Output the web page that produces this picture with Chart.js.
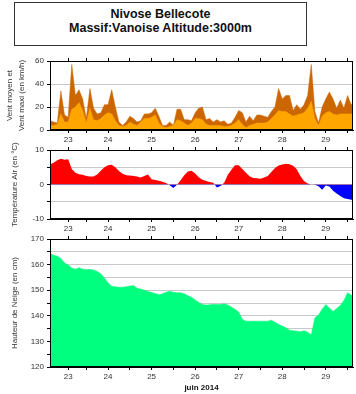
<!DOCTYPE html>
<html>
<head>
<meta charset="utf-8">
<script src="https://cdn.jsdelivr.net/npm/chart.js@4/dist/chart.umd.min.js"></script>
<style>
  html, body { margin: 0; padding: 0; background: #fff; }
  #wrap { position: relative; width: 356px; height: 394px; overflow: hidden; font-family: "Liberation Sans", Arial, sans-serif; }
  canvas { position: absolute; left: 0; top: 0; }
  #titlebox { position: absolute; left: 14px; top: 2px; width: 291px; height: 37px; border: 1.5px solid #333;
    text-align: center; font-weight: bold; font-size: 12.5px; line-height: 13.5px; color: #111; padding-top: 5px; box-sizing: content-box; }
</style>
</head>
<body>
<div id="wrap">
  <div id="titlebox"><div>Nivose Bellecote</div><div>Massif:Vanoise Altitude:3000m</div></div>
  <canvas id="c1" width="356" height="394"></canvas>
  <canvas id="c2" width="356" height="394"></canvas>
  <canvas id="c3" width="356" height="394"></canvas>
</div>
<script>
// hours since 23 June 2014 00:00
const hours = [4,6,8,10,12,14,16,18,20,22,24,26,28,30,32,34,36,38,40,42,44,46,48,50,52,54,56,58,60,62,64,66,68,70,72,74,76,78,80,82,84,86,88,90,92,94,96,98,100,102,104,106,108,110,112,114,116,118,120,122,124,126,128,130,132,134,136,138,140,142,144,146,148,150,152,154,156,158,160,162,164,166,168,170,172];
const dayLabels = ['23','24','25','26','27','28','29','30'];
const xMin = 4, xMax = 171;

const windMax = [8,7,6,34,13,11,57,30,35,27, 10,36,19,14,15,22,22,35,20,7, 4,7,12,10,7,8,14,14,15,19, 12,4,4,7,4,18,18,9,9,8, 15,19,20,9,10,7,9,7,8,5, 6,11,17,15,7,12,8,13,13,12, 11,16,20,36,27,30,30,17,22,18, 22,30,57,16,6,20,27,33,27,19, 26,19,30,22,25];
const windMean = [4,4,5,14,7,7,18,20,24,17, 6,19,9,8,10,13,15,14,8,4, 3,4,7,5,4,7,10,10,11,13, 6,3,2,3,4,9,8,6,4,6, 10,10,9,5,4,4,4,4,3,3, 4,6,9,5,2,4,5,6,6,6, 7,10,13,17,16,16,14,12,13,14, 15,19,25,10,4,12,15,16,14,13, 14,14,14,14,14];
const temperature = [5.8,6.3,7.0,7.5,7.2,7.3,4.5,3.4,3.0,2.8, 2.5,2.3,2.3,2.9,4.0,5.0,5.6,5.7,5.0,3.9, 3.1,2.7,2.6,2.5,2.3,2.0,2.5,2.9,1.5,1.3, 1.1,0.8,0.4,-0.2,-1.0,-0.1,1.2,2.7,3.8,4.0, 3.2,2.1,1.4,1.0,0.7,0.5,-0.9,-0.4,0.5,2.8, 4.3,5.6,5.6,4.5,3.4,2.4,1.9,1.8,1.7,2.0, 2.5,3.6,4.8,5.5,5.8,6.0,5.9,5.4,4.4,2.5, 1.0,0.3,0,-0.1,-0.5,-1.5,-0.3,-0.6,-1.8,-2.6, -3.3,-4.0,-4.2,-4.4,-4.5];
const snowDepth = [164.4,163.7,163.3,162.4,160.6,159.8,158.7,158.2,158.8,158.2, 158.1,158.1,157.9,157.3,156.4,154.8,152.8,151.5,151.3,151.2, 151.2,151.3,151.6,151.8,150.8,150.5,150.0,149.5,149.1,148.7, 148.2,148.6,149.2,149.6,149.2,149.0,149.0,148.6,147.8,147.2, 146.2,145.2,144.4,144.2,144.3,144.5,144.4,144.4,144.7,144.2, 143.4,142.5,141.5,138.6,137.9,137.9,137.9,137.9,137.9,137.9, 137.9,138.3,137.5,136.6,136.0,135.3,134.4,134.2,134.0,133.8, 134.2,133.6,132.5,139.2,140.3,142.6,144.4,143.0,141.7,142.9, 144.0,146.0,149.0,148.0,147.4];

// ---- x ticks: day boundaries + labels centred on visible part of each day
const boundaryTicks = [];
const labelAt = {};
dayLabels.forEach((lab, i) => {
  const s = i * 24, e = s + 24;
  if (s > xMin && s < xMax) boundaryTicks.push(s);
  const a = Math.max(s, xMin), b = Math.min(e, xMax);
  if (b - a >= 8) labelAt[((a + b) / 2).toFixed(3)] = lab;
});
const xTickValues = boundaryTicks.concat(Object.keys(labelAt).map(Number)).sort((a, b) => a - b);

const FONT = "'Liberation Sans', Arial, sans-serif";
const TXT = '#333';

const framePlugin = {
  id: 'frame',
  afterDatasetsDraw(chart) {
    const a = chart.chartArea, ctx = chart.ctx;
    ctx.save();
    ctx.strokeStyle = '#000';
    ctx.lineWidth = 1;
    ctx.strokeRect(Math.round(a.left) + 0.5, Math.round(a.top) + 0.5, Math.round(a.right - a.left) - 1, Math.round(a.bottom - a.top) - 1);
    ctx.restore();
  }
};

function xScales(bottomHeight, title) {
  return {
    x: {
      type: 'linear', position: 'bottom', min: xMin, max: xMax,
      afterBuildTicks: s => { s.ticks = xTickValues.map(v => ({ value: v })); },
      afterFit: s => { s.height = bottomHeight; },
      ticks: {
        autoSkip: false, maxRotation: 0, padding: 2, color: TXT,
        font: { family: FONT, size: 8 },
        callback: v => labelAt[Number(v).toFixed(3)] || ''
      },
      grid: { drawOnChartArea: false, tickLength: 3, color: '#000' },
      border: { color: '#000', width: 1 },
      title: title ? { display: true, text: title, color: '#111', font: { family: FONT, size: 8, weight: 'bold' }, padding: { top: 0, bottom: 0 } } : { display: false }
    },
    x2: {
      type: 'linear', position: 'top', min: xMin, max: xMax,
      afterBuildTicks: s => { s.ticks = xTickValues.map(v => ({ value: v })); },
      afterFit: s => { s.height = 0; },
      ticks: { display: false },
      grid: { drawOnChartArea: false, tickLength: 3, color: '#000' },
      border: { display: false }
    }
  };
}

function yScale(min, max, step, labelStep, title, titlePad) {
  return {
    type: 'linear', min: min, max: max,
    afterFit: s => { s.width = 50; },
    ticks: {
      stepSize: step, padding: 3, color: TXT,
      font: { family: FONT, size: 8 },
      callback: v => (Math.abs(v % labelStep) < 1e-9 ? String(v) : '')
    },
    grid: { color: '#c8c8c8', tickColor: '#000', tickLength: 3, lineWidth: 1 },
    border: { color: '#000', width: 1 },
    title: { display: true, text: title, color: TXT, font: { family: FONT, size: 8, lineHeight: '12px' }, padding: { top: titlePad, bottom: 0 } }
  };
}

function pts(vals) { return hours.map((h, i) => ({ x: h, y: vals[i] })); }

function makeChart(id, padTop, padBottom, bottomHeight, xTitle, datasets, y) {
  const scales = xScales(bottomHeight, xTitle);
  scales.y = y;
  return new Chart(document.getElementById(id), {
    type: 'line',
    data: { datasets: datasets },
    options: {
      responsive: false, animation: false, devicePixelRatio: 1,
      layout: { padding: { top: padTop, bottom: padBottom, left: 0, right: 3 } },
      plugins: { legend: { display: false }, tooltip: { enabled: false }, title: { display: false } },
      elements: { point: { radius: 0 }, line: { tension: 0 } },
      scales: scales
    },
    plugins: [framePlugin]
  });
}

// Wind panel
makeChart('c1', 61, 394 - 12 - 130, 12, null, [
  { label: 'Vent moyen', data: pts(windMean), borderColor: '#FFA500', backgroundColor: '#FFA500', borderWidth: 0.5, fill: 'origin', xAxisID: 'x' },
  { label: 'Vent maxi', data: pts(windMax), borderColor: '#CC6600', backgroundColor: '#CC6600', borderWidth: 0.5, fill: 'origin', xAxisID: 'x' }
], yScale(0, 60, 10, 20, ['Vent moyen et', 'Vent maxi (en km/h)'], 4));

// Temperature panel
makeChart('c2', 150, 394 - 12 - 219, 12, null, [
  { label: 'Température', data: pts(temperature), borderWidth: 0, borderColor: 'rgba(0,0,0,0)',
    fill: { target: { value: 0 }, above: '#FF0000', below: '#0000FF' }, xAxisID: 'x' }
], yScale(-10, 10, 5, 10, 'Température Air (en °C)', 9));

// Snow panel
makeChart('c3', 239, 394 - 26 - 367, 26, 'juin 2014', [
  { label: 'Hauteur de neige', data: pts(snowDepth), borderWidth: 0.5, borderColor: '#00F07A', backgroundColor: '#00FF7F', fill: 'start', xAxisID: 'x' }
], yScale(120, 170, 5, 10, 'Hauteur de Neige (en cm)', 9));
</script>
</body>
</html>
